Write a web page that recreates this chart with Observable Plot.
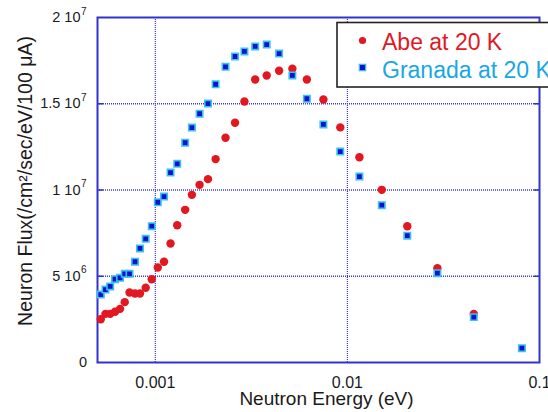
<!DOCTYPE html>
<html>
<head>
<meta charset="utf-8">
<script src="https://cdn.jsdelivr.net/npm/d3@7"></script>
<script src="https://cdn.jsdelivr.net/npm/@observablehq/plot@0.6"></script>
<style>
  html, body { margin: 0; padding: 0; background: #fff; overflow: hidden; }
  #chart { width: 548px; height: 412px; overflow: hidden; }
</style>
</head>
<body>
<div id="chart"></div>
<script>
// ---- data ----
const energy = [0.00052, 0.00055, 0.000582, 0.000617, 0.000655, 0.000693, 0.000734, 0.000784, 0.000832, 0.000891,
  0.000958, 0.00103, 0.00111, 0.0012, 0.0013, 0.00143, 0.00155, 0.0017, 0.00188, 0.00206,
  0.00232, 0.0026, 0.00291, 0.00331, 0.0038, 0.00441, 0.00517, 0.00615, 0.0075, 0.00918,
  0.01155, 0.0151, 0.0205, 0.0294, 0.0455, 0.081];
const abeFlux = [2.51e6, 2.82e6, 2.82e6, 2.94e6, 3.11e6, 3.50e6, 4.06e6, 4.00e6, 4.00e6, 4.33e6,
  4.83e6, 5.51e6, 5.84e6, 6.90e6, 7.96e6, 8.85e6, 9.72e6, 1.030e7, 1.063e7, 1.179e7,
  1.303e7, 1.390e7, 1.513e7, 1.641e7, 1.664e7, 1.691e7, 1.703e7, 1.641e7, 1.525e7, 1.363e7,
  1.190e7, 1.001e7, 7.90e6, 5.47e6, 2.82e6];
const granadaFlux = [3.94e6, 4.23e6, 4.41e6, 4.83e6, 4.91e6, 5.14e6, 5.14e6, 5.84e6, 6.61e6, 7.17e6,
  7.90e6, 9.29e6, 9.62e6, 1.101e7, 1.152e7, 1.274e7, 1.362e7, 1.442e7, 1.501e7, 1.613e7,
  1.714e7, 1.774e7, 1.803e7, 1.832e7, 1.843e7, 1.791e7, 1.664e7, 1.529e7, 1.380e7, 1.223e7,
  1.078e7, 9.12e6, 7.35e6, 5.18e6, 2.63e6, 8.3e5];

const seriesNames = ["Abe at 20 K", "Granada at 20 K"];
const xTicks = [0.001, 0.01, 0.1];
const xTickLabels = ["0.001", "0.01", "0.1"];
const yTicks = [0, 5e6, 1e7, 1.5e7, 2e7];
const yTickBase = ["0", "5 10", "1 10", "1.5 10", "2 10"];
const yTickExp = ["", "6", "7", "7", "7"];
const xGrid = [0.001, 0.01];
const yGrid = [5e6, 1e7, 1.5e7];
const xTitle = "Neutron Energy (eV)";
const yTitle = "Neuron Flux(/cm\u00B2/sec/eV/100 \u03BCA)";

// ---- tables built from the arrays ----
const abe = abeFlux.map((f, i) => ({e: energy[i], f}));
const granada = granadaFlux.map((f, i) => ({e: energy[i], f}));
const yTickRows = yTicks.map((v, i) => ({v, base: yTickBase[i], exp: yTickExp[i]}));

const FRAME = "#3232d2";
const GRID = "#3a3ad8";
const RED = "#e3171f";
const BLUE_FILL = "#0a14cc";
const BLUE_EDGE = "#3cc0f0";
const CYAN_TEXT = "#19a7e3";
const INK = "#1a1a1a";
const FONT = "Liberation Sans, Arial, Helvetica, sans-serif";

// legend as a custom mark
function legendMark() {
  const g = d3.create("svg:g").attr("text-anchor", "start");
  g.append("rect").attr("x", 337).attr("y", 22.5).attr("width", 240).attr("height", 64.5)
    .attr("fill", "#fff").attr("stroke", "#222").attr("stroke-width", 1.6);
  g.append("circle").attr("cx", 362.5).attr("cy", 40.5).attr("r", 3.6).attr("fill", RED);
  g.append("rect").attr("x", 359.3).attr("y", 64.3).attr("width", 6.4).attr("height", 6.4)
    .attr("fill", BLUE_FILL).attr("stroke", BLUE_EDGE).attr("stroke-width", 1.2);
  g.append("text").attr("x", 382).attr("y", 50).attr("fill", RED)
    .attr("font-size", 23).attr("font-family", FONT).text(seriesNames[0]);
  g.append("text").attr("x", 382).attr("y", 77.5).attr("fill", CYAN_TEXT)
    .attr("font-size", 23).attr("font-family", FONT).text(seriesNames[1]);
  return g.node();
}

const chart = Plot.plot({
  width: 548,
  height: 412,
  marginLeft: 97,
  marginRight: 9,
  marginTop: 17,
  marginBottom: 50,
  style: {fontFamily: FONT, background: "#fff", overflow: "hidden"},
  x: {type: "log", domain: [0.0005, 0.1], axis: null},
  y: {domain: [0, 2e7], axis: null},
  marks: [
    // dotted grid
    Plot.ruleX(xGrid, {x: d => d, stroke: GRID, strokeWidth: 1.2, strokeDasharray: "1,1"}),
    Plot.ruleY(yGrid, {y: d => d, stroke: GRID, strokeWidth: 1.4, strokeDasharray: "1,1"}),
    // inward ticks on left and right edges
    Plot.axisY(yGrid, {anchor: "left", tickSize: 6, dx: 6, tickFormat: () => "", stroke: FRAME, strokeWidth: 1.5}),
    Plot.axisY(yGrid, {anchor: "right", tickSize: 6, dx: -6, tickFormat: () => "", stroke: FRAME, strokeWidth: 1.5}),
    Plot.frame({stroke: FRAME, strokeWidth: 2}),
    // data
    Plot.dot(abe, {x: "e", y: "f", r: 4.2, fill: RED, stroke: null}),
    Plot.dot(granada, {x: "e", y: "f", symbol: "square", r: 3.6, fill: BLUE_FILL, stroke: BLUE_EDGE, strokeWidth: 1.6}),
    // x tick labels
    Plot.text(xTicks, {x: d => d, text: (d, i) => xTickLabels[i], frameAnchor: "bottom", lineAnchor: "middle", dy: 20, fontSize: 16, fill: INK}),
    // y tick labels with exponent
    Plot.text(yTickRows.filter(d => d.exp), {y: "v", text: "base", frameAnchor: "left", dx: -17, textAnchor: "end", lineAnchor: "middle", fontSize: 14.5, fill: INK}),
    Plot.text(yTickRows.filter(d => d.exp), {y: "v", text: "exp", frameAnchor: "left", dx: -16.5, dy: -6, textAnchor: "start", lineAnchor: "middle", fontSize: 10, fill: INK}),
    Plot.text(yTickRows.filter(d => !d.exp), {y: "v", text: "base", frameAnchor: "left", dx: -10.5, textAnchor: "end", lineAnchor: "middle", fontSize: 14.5, fill: INK}),
    // axis titles
    Plot.text([xTitle], {text: d => d, frameAnchor: "bottom", lineAnchor: "middle", textAnchor: "middle", dx: 8, dy: 36, fontSize: 19, fill: INK}),
    Plot.text([yTitle], {text: d => d, frameAnchor: "left", textAnchor: "middle", lineAnchor: "middle", dx: -72, dy: -9, rotate: -90, fontSize: 19.5, fill: INK}),
    // legend
    legendMark
  ]
});
document.getElementById("chart").appendChild(chart);
</script>
</body>
</html>
